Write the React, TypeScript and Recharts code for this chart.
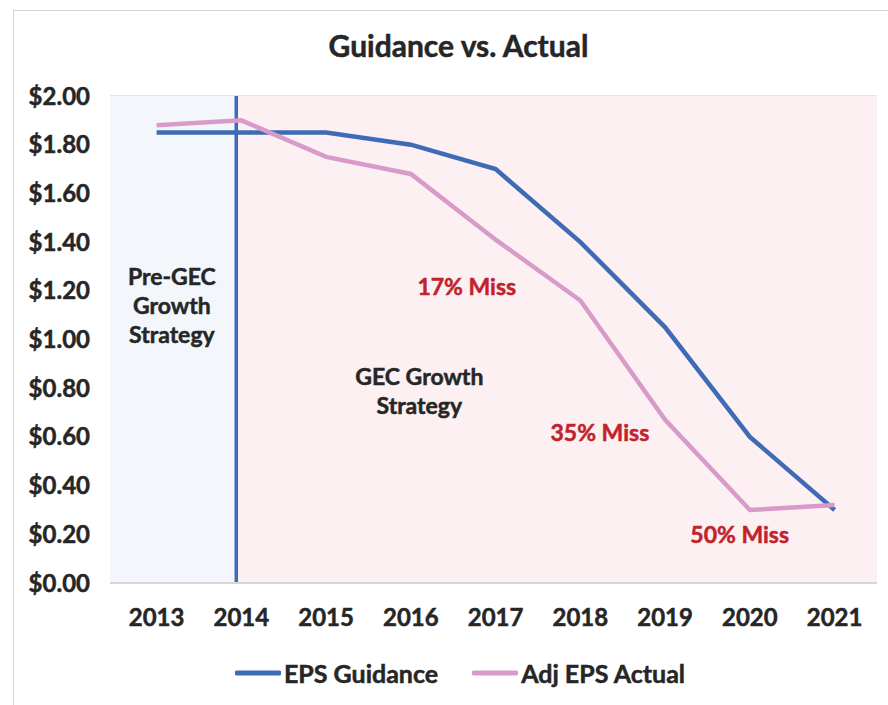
import React from "react";
import {
  Legend,
  Line,
  LineChart,
  ReferenceArea,
  ReferenceDot,
  ReferenceLine,
  CartesianGrid,
  XAxis,
  YAxis,
} from "recharts";

const YEARS = [2013, 2014, 2015, 2016, 2017, 2018, 2019, 2020, 2021];
const EPS_GUIDANCE = [1.85, 1.85, 1.85, 1.8, 1.7, 1.4, 1.05, 0.6, 0.3];
const ADJ_EPS_ACTUAL = [1.88, 1.9, 1.75, 1.68, 1.41, 1.16, 0.67, 0.3, 0.32];
const Y_TICKS = [0, 0.2, 0.4, 0.6, 0.8, 1.0, 1.2, 1.4, 1.6, 1.8, 2.0];
const SERIES_ORDER = ["EPS Guidance", "Adj EPS Actual"];

// where the strategy switched (just before the 2014 point)
const GEC_START = 2013.94;

const MISS_NOTES = [
  { text: "17% Miss", year: 2016.66, value: 1.22 },
  { text: "35% Miss", year: 2018.23, value: 0.62 },
  { text: "50% Miss", year: 2019.88, value: 0.2 },
];
const PHASE_NOTES = [
  { lines: ["Pre-GEC", "Growth", "Strategy"], year: 2013.18, value: 1.14 },
  { lines: ["GEC Growth", "Strategy"], year: 2016.1, value: 0.79 },
];

const data = YEARS.map((year, i) => ({
  year,
  guidance: EPS_GUIDANCE[i],
  actual: ADJ_EPS_ACTUAL[i],
}));

const FONT = "Lato, 'Noto Sans', sans-serif";
const WEIGHT = 700;
const BLUE = "#3d6bb6";
const PINK = "#d89bc9";
const DARK = "#262626";
const RED = "#c1222b";

function LegendContent({ payload }: any) {
  const items = [...(payload || [])].sort(
    (a: any, b: any) => SERIES_ORDER.indexOf(a.value) - SERIES_ORDER.indexOf(b.value)
  );
  return (
    <div style={{ display: "flex", justifyContent: "center", gap: 34, fontFamily: FONT }}>
      {items.map((p: any) => (
        <div key={p.value} style={{ display: "flex", alignItems: "center", gap: 3 }}>
          <svg width={46} height={8}>
            <line x1={2} y1={4} x2={44} y2={4} stroke={p.color} strokeWidth={5} strokeLinecap="round" />
          </svg>
          <span
            style={{
              fontSize: 25,
              fontWeight: WEIGHT,
              color: DARK,
              WebkitTextStroke: `0.5px ${DARK}`,
            }}
          >
            {p.value}
          </span>
        </div>
      ))}
    </div>
  );
}

const tickStyle = {
  fontFamily: FONT,
  fontSize: 24,
  fontWeight: WEIGHT,
  fill: DARK,
  stroke: DARK,
  strokeWidth: 0.5,
};

export default function App() {
  return (
    <div style={{ position: "absolute", left: 0, top: 0, width: 888, height: 705, background: "#fff" }}>
      <div
        style={{
          position: "absolute",
          left: 13,
          top: 10,
          right: 0,
          bottom: 0,
          borderLeft: "1.5px solid #d4d4d4",
          borderTop: "1.5px solid #d4d4d4",
        }}
      />
      <div
        style={{
          position: "absolute",
          left: 13,
          right: 0,
          top: 27,
          textAlign: "center",
          fontFamily: FONT,
          fontWeight: WEIGHT,
          fontSize: 30,
          color: DARK,
          paddingLeft: 16,
          WebkitTextStroke: `0.5px ${DARK}`,
        }}
      >
        Guidance vs. Actual
      </div>
      <div style={{ position: "absolute", left: 0, top: 0 }}>
        <LineChart
          width={888}
          height={705}
          data={data}
          margin={{ top: 96, right: 11, bottom: 0, left: 0 }}
        >
          <ReferenceArea x1={2012.45} x2={GEC_START} y1={0} y2={2} fill="#f3f7fb" fillOpacity={1} stroke="none" />
          <ReferenceArea x1={GEC_START} x2={2021.5} y1={0} y2={2} fill="#fcf0f2" fillOpacity={1} stroke="none" />
          <CartesianGrid vertical={false} stroke="#dcdde0" strokeWidth={1.5} />
          <XAxis
            dataKey="year"
            type="number"
            domain={[2012.45, 2021.5]}
            ticks={YEARS}
            allowDataOverflow
            height={92}
            axisLine={{ stroke: "#d6d6d6", strokeWidth: 2 }}
            tickLine={false}
            tickSize={0}
            tickMargin={26}
            tick={tickStyle}
          />
          <YAxis
            domain={[0, 2]}
            ticks={Y_TICKS}
            width={110}
            axisLine={false}
            tickLine={false}
            tickSize={0}
            tickMargin={20}
            tickFormatter={(v: number) => `$${v.toFixed(2)}`}
            tick={tickStyle}
          />
          <ReferenceLine x={GEC_START} stroke={BLUE} strokeWidth={3.5} />
          {PHASE_NOTES.map((n) => (
            <ReferenceDot
              key={n.lines[0]}
              x={n.year}
              y={n.value}
              r={0}
              shape={(p: any) => (
                <text
                  x={p.cx}
                  y={p.cy - ((n.lines.length - 1) * 29) / 2}
                  textAnchor="middle"
                  dominantBaseline="central"
                  fontFamily={FONT}
                  fontSize={23}
                  fontWeight={WEIGHT}
                  fill={DARK}
                  stroke={DARK}
                  strokeWidth={0.5}
                >
                  {n.lines.map((l, i) => (
                    <tspan key={l} x={p.cx} dy={i === 0 ? 0 : 29}>
                      {l}
                    </tspan>
                  ))}
                </text>
              )}
            />
          ))}
          {MISS_NOTES.map((n) => (
            <ReferenceDot
              key={n.text}
              x={n.year}
              y={n.value}
              r={0}
              shape={(p: any) => (
                <text
                  x={p.cx}
                  y={p.cy}
                  textAnchor="middle"
                  dominantBaseline="central"
                  fontFamily={FONT}
                  fontSize={23}
                  fontWeight={WEIGHT}
                  fill={RED}
                  stroke={RED}
                  strokeWidth={0.5}
                >
                  {n.text}
                </text>
              )}
            />
          ))}
          <Line
            dataKey="guidance"
            name="EPS Guidance"
            stroke={BLUE}
            strokeWidth={4.5}
            dot={false}
            isAnimationActive={false}
          />
          <Line
            dataKey="actual"
            name="Adj EPS Actual"
            stroke={PINK}
            strokeWidth={4.5}
            dot={false}
            isAnimationActive={false}
          />
          <Legend
            verticalAlign="bottom"
            content={<LegendContent />}
            wrapperStyle={{ bottom: 17, left: 0, width: 888, paddingLeft: 16 }}
          />
        </LineChart>
      </div>
    </div>
  );
}
